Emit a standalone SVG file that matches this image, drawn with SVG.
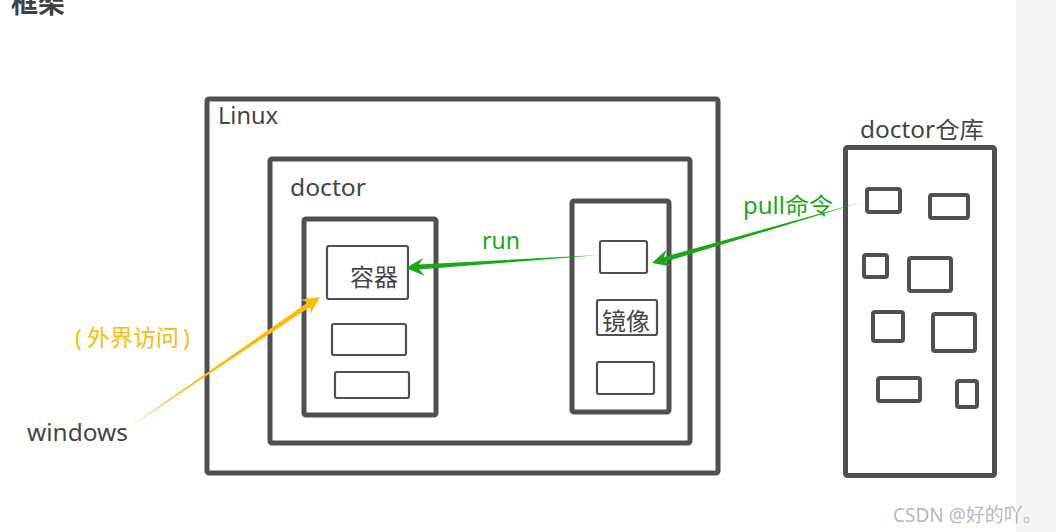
<svg xmlns="http://www.w3.org/2000/svg" width="1056" height="532" viewBox="0 0 1056 532">
<style>
.box{fill:none;stroke:#505050;stroke-width:5;stroke-linejoin:round}
.sbox{fill:none;stroke:#505050;stroke-width:4;stroke-linejoin:round}
.ibox{fill:none;stroke:#505050;stroke-width:2.2}
.t{font-family:"Noto Sans","Noto Sans CJK SC",sans-serif;font-size:23px;fill:#454545}
.c{font-family:"Noto Sans CJK SC",sans-serif;font-size:24px;fill:#454545}
.g{fill:#1aa81a}
.o{fill:#fcbb06}
</style>
<rect x="0" y="0" width="1056" height="532" fill="#ffffff"/>
<rect x="1016" y="0" width="40" height="532" fill="#f4f5f7"/>
<text x="11" y="13" style="font-family:'Noto Sans CJK SC',sans-serif;font-size:27px;font-weight:bold;fill:#404040">框架</text>
<g id="linux"><rect class="box" x="207" y="99" width="511" height="374" rx="2"/><text class="t" x="218" y="124" textLength="60" lengthAdjust="spacingAndGlyphs">Linux</text></g>
<g id="doctor"><rect class="box" x="270" y="159" width="420" height="284" rx="2"/><text class="t" x="290" y="196" textLength="76" lengthAdjust="spacingAndGlyphs">doctor</text></g>
<g id="container-box"><rect class="box" x="304" y="219" width="132" height="196" rx="2"/></g>
<g id="container"><rect class="ibox" x="327" y="246" width="81" height="53" rx="2"/><text class="c" x="350" y="286">容器</text></g>
<g id="c2"><rect class="ibox" x="332" y="324" width="74" height="31" rx="2"/></g>
<g id="c3"><rect class="ibox" x="335" y="372" width="74" height="26" rx="2"/></g>
<g id="image-box"><rect class="box" x="572" y="201" width="97" height="211" rx="2"/></g>
<g id="i1"><rect class="ibox" x="600" y="241" width="47" height="32" rx="2"/></g>
<g id="image"><rect class="ibox" x="597" y="300" width="60" height="35" rx="2"/><text class="c" x="602" y="330">镜像</text></g>
<g id="i3"><rect class="ibox" x="597" y="362" width="57" height="32" rx="2"/></g>
<g id="repo"><rect class="box" x="845.5" y="147.5" width="149" height="328" rx="2"/><text class="t" x="860" y="138" textLength="124" lengthAdjust="spacingAndGlyphs">doctor仓库</text>
<rect class="sbox" x="867" y="189" width="33" height="23" rx="2"/>
<rect class="sbox" x="930" y="195" width="38" height="23" rx="2"/>
<rect class="sbox" x="864" y="255" width="23" height="22" rx="2"/>
<rect class="sbox" x="909" y="258" width="42" height="33" rx="2"/>
<rect class="sbox" x="873" y="312" width="30" height="29" rx="2"/>
<rect class="sbox" x="933" y="314" width="42" height="37" rx="2"/>
<rect class="sbox" x="878" y="378" width="42" height="23" rx="2"/>
<rect class="sbox" x="957" y="381" width="20" height="26" rx="2"/>
</g>
<g id="windows"><text class="t" x="27" y="441" textLength="101" lengthAdjust="spacingAndGlyphs">windows</text></g>
<g id="connectors">
<polygon class="g" points="599,255 418.8,264.6 423.4,257.8 406,268 424.6,275.8 419.2,269.6"/>
<polygon class="g" points="862,202 663.8,257 666.8,249.4 652,263 671.8,266.6 665.2,261.8"/>
<polygon class="o" points="128,428 307.9,302.2 300,299.8 320,297 310.2,314.6 310.7,306.4"/>
<text class="t" x="482" y="249" textLength="38" lengthAdjust="spacingAndGlyphs" style="fill:#1aa81a">run</text>
<text class="t" x="743" y="214" textLength="90" lengthAdjust="spacingAndGlyphs" style="fill:#1aa81a">pull命令</text>
<text class="t" x="75" y="346" style="fill:#fcbb06">(<tspan x="87">外界访问</tspan><tspan x="183">)</tspan></text>
</g>
<text x="893" y="522" style="font-family:'Noto Sans','Noto Sans CJK SC',sans-serif;font-size:19px;fill:#b8b8b8">CSDN @好的吖。</text>
</svg>
